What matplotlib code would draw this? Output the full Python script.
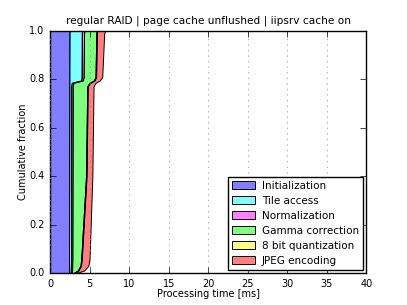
import numpy as np
import matplotlib
matplotlib.use('Agg')
import matplotlib.pyplot as plt

plt.style.use('classic')

# cumulative fraction levels and end time [ms] of each processing stage
frac = [0.0, 0.01, 0.03, 0.06, 0.4, 0.77, 0.785, 0.795, 0.81, 0.99, 1.0]
init_end = [2.40, 2.40, 2.40, 2.40, 2.42, 2.44, 2.44, 2.44, 2.44, 2.46, 2.46]
tile_end = [2.60, 2.62, 2.64, 2.65, 2.66, 2.68, 2.75, 3.95, 4.00, 4.02, 4.05]
norm_end = [2.75, 2.78, 2.80, 2.82, 2.85, 2.87, 2.95, 4.15, 4.25, 4.30, 4.35]
gamma_end = [3.00, 3.50, 3.85, 3.95, 4.55, 4.70, 5.00, 5.55, 5.75, 5.85, 5.90]
quant_end = [3.05, 3.56, 3.91, 4.01, 4.61, 4.76, 5.06, 5.62, 5.82, 5.92, 5.97]
jpeg_end = [3.35, 4.30, 4.85, 5.00, 5.35, 5.50, 5.75, 6.30, 6.60, 6.85, 7.00]

stages = ['Initialization', 'Tile access', 'Normalization', 'Gamma correction',
          '8 bit quantization', 'JPEG encoding']
colors = [(0, 0, 1, 0.5), (0, 1, 1, 0.5), (1, 0, 1, 0.5), (0, 1, 0, 0.5),
          (1, 1, 0, 0.5), (1, 0, 0, 0.5)]
ends = [init_end, tile_end, norm_end, gamma_end, quant_end, jpeg_end]

fig = plt.figure(figsize=(4.07, 3.05), dpi=100)
ax = fig.add_axes([0.123, 0.105, 0.777, 0.794])

left = np.zeros(len(frac))
for name, c, e in zip(stages, colors, ends):
    right = np.array(e)
    ax.fill_betweenx(frac, left, right, facecolor=c, edgecolor='k', linewidth=0.7, label=name)
    left = right

ax.set_xlim(0, 40)
ax.set_ylim(0, 1)
ax.set_xticks(range(0, 41, 5))
ax.set_yticks([0.0, 0.2, 0.4, 0.6, 0.8, 1.0])
ax.xaxis.grid(True, linestyle=':', color='0.55', linewidth=0.5)
ax.tick_params(labelsize=7)
ax.set_xlabel('Processing time [ms]', fontsize=7, labelpad=0)
ax.set_ylabel('Cumulative fraction', fontsize=7, labelpad=1)
ax.set_title('regular RAID | page cache unflushed | iipsrv cache on', fontsize=7.6, y=1.0)
ax.legend(loc='lower right', fontsize=7.5, fancybox=False, handlelength=2.2,
          handleheight=0.9, labelspacing=0.48, borderpad=0.4, borderaxespad=0.3,
          handletextpad=0.7)

fig.savefig('out.png', dpi=100)
